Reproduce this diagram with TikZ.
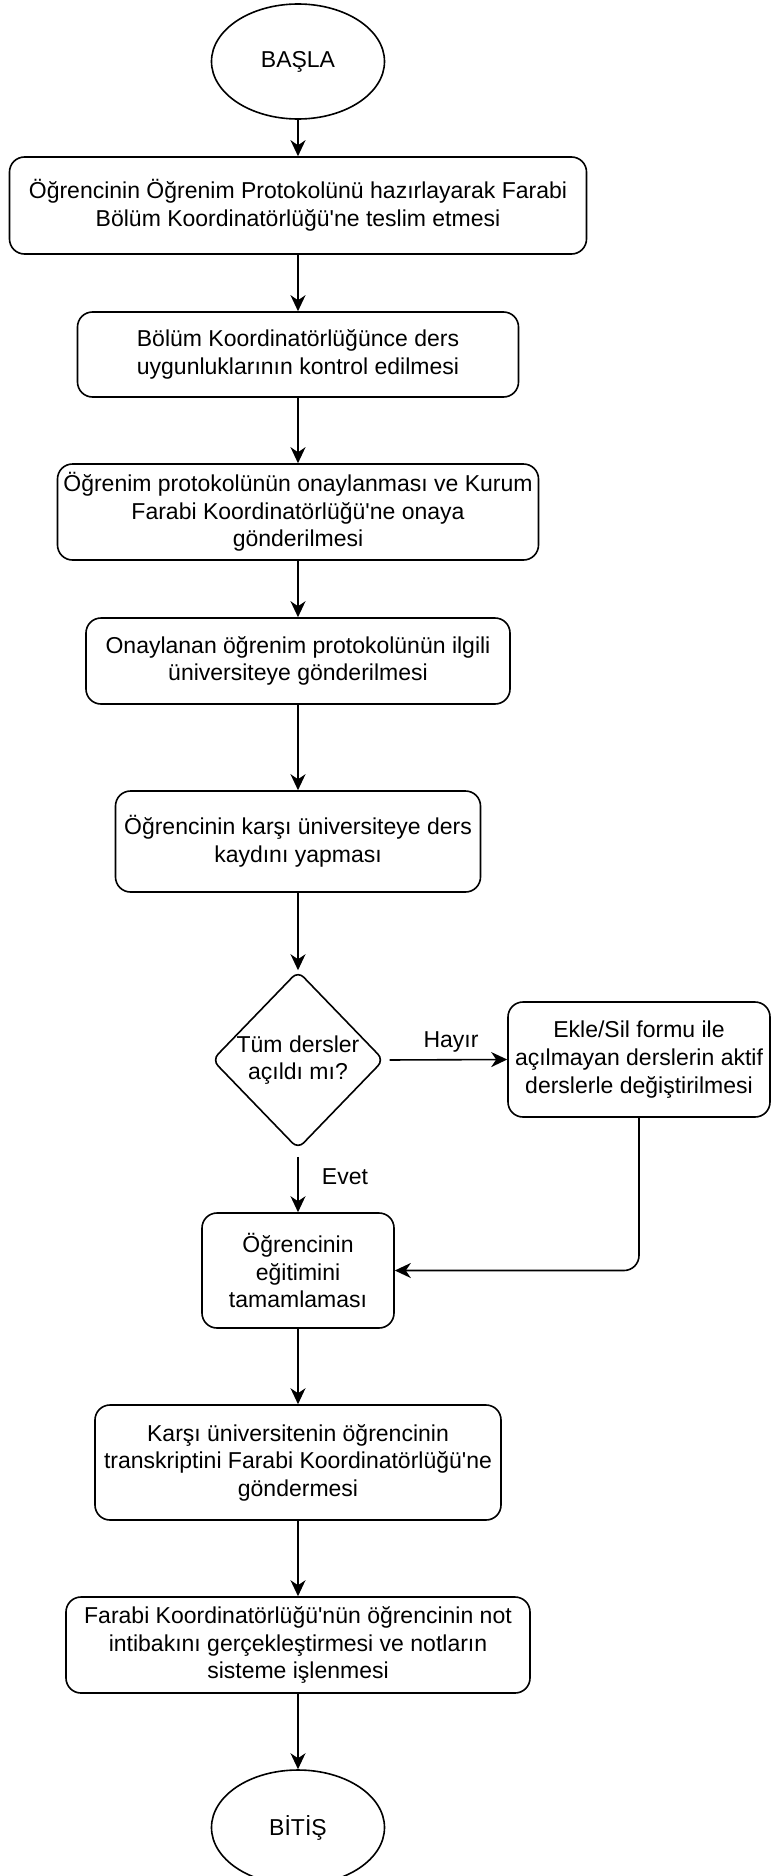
\documentclass[tikz,border=0pt]{standalone}
\usepackage{fontspec}
\setmainfont{Liberation Sans}
\usetikzlibrary{shapes.geometric,arrows.meta}
\newcommand{\apo}{\textquotesingle}
\begin{document}
\begin{tikzpicture}[x=1pt,y=-1pt,
  every node/.style={font=\fontsize{23}{27.6}\selectfont, align=center, inner sep=0pt},
  stepbox/.style={draw, line width=1.6pt, rounded corners=15pt, rectangle},
  term/.style={draw, line width=1.6pt, ellipse, minimum width=173pt, minimum height=115pt},
  decide/.style={draw, line width=1.6pt, diamond, rounded corners=8pt, minimum width=162pt, minimum height=178pt},
  arr/.style={line width=1.6pt, -{Stealth[length=16pt,width=15pt,inset=5pt]}},
  lbl/.style={font=\fontsize{23}{27.6}\selectfont}
]
\useasboundingbox (0,0) rectangle (771,1876);

\node[term] (start) at (298,61.5) {BAŞLA};
\node[stepbox, minimum width=577pt, minimum height=97pt] (b1) at (298,205.5)
  {Öğrencinin Öğrenim Protokolünü hazırlayarak Farabi\\Bölüm Koordinatörlüğü\apo ne teslim etmesi};
\node[stepbox, minimum width=441pt, minimum height=85pt] (b2) at (298,354.5)
  {Bölüm Koordinatörlüğünce ders\\uygunluklarının kontrol edilmesi};
\node[stepbox, minimum width=481pt, minimum height=96pt] (b3) at (298,512)
  {Öğrenim protokolünün onaylanması ve Kurum\\Farabi Koordinatörlüğü\apo ne onaya\\gönderilmesi};
\node[stepbox, minimum width=424pt, minimum height=86pt] (b4) at (298,661)
  {Onaylanan öğrenim protokolünün ilgili\\üniversiteye gönderilmesi};
\node[stepbox, minimum width=365pt, minimum height=101pt] (b5) at (298,841.5)
  {Öğrencinin karşı üniversiteye ders\\kaydını yapması};
\node[decide] (d) at (298,1060) {Tüm dersler\\açıldı mı?};
\node[stepbox, minimum width=262pt, minimum height=115pt] (b6) at (639,1059.5)
  {Ekle/Sil formu ile\\açılmayan derslerin aktif\\derslerle değiştirilmesi};
\node[stepbox, minimum width=192pt, minimum height=115pt] (b7) at (298,1270.5)
  {Öğrencinin\\eğitimini\\tamamlaması};
\node[stepbox, minimum width=406pt, minimum height=115pt] (b8) at (298,1462.5)
  {Karşı üniversitenin öğrencinin\\transkriptini Farabi Koordinatörlüğü\apo ne\\göndermesi};
\node[stepbox, minimum width=464pt, minimum height=96pt] (b9) at (298,1645)
  {Farabi Koordinatörlüğü\apo nün öğrencinin not\\intibakını gerçekleştirmesi ve notların\\sisteme işlenmesi};
\node[term] (end) at (298,1827.5) {BİTİŞ};

\draw[arr] (start) -- (b1);
\draw[arr] (b1) -- (b2);
\draw[arr] (b2) -- (b3);
\draw[arr] (b3) -- (b4);
\draw[arr] (b4) -- (b5);
\draw[arr] (b5) -- (d);
\draw[arr, shorten <=5pt] (d.east) -- (b6.west);
\draw[arr, shorten <=7pt] (d.south) -- (b7.north);
\draw[arr, rounded corners=15pt] (b6.south) |- (b7.east);
\draw[arr] (b7) -- (b8);
\draw[arr] (b8) -- (b9);
\draw[arr] (b9) -- (end);

\node[lbl] (hayir) at (451,1042) {Hayır};
\node[lbl] (evet) at (345,1177) {Evet};
\end{tikzpicture}
\end{document}
